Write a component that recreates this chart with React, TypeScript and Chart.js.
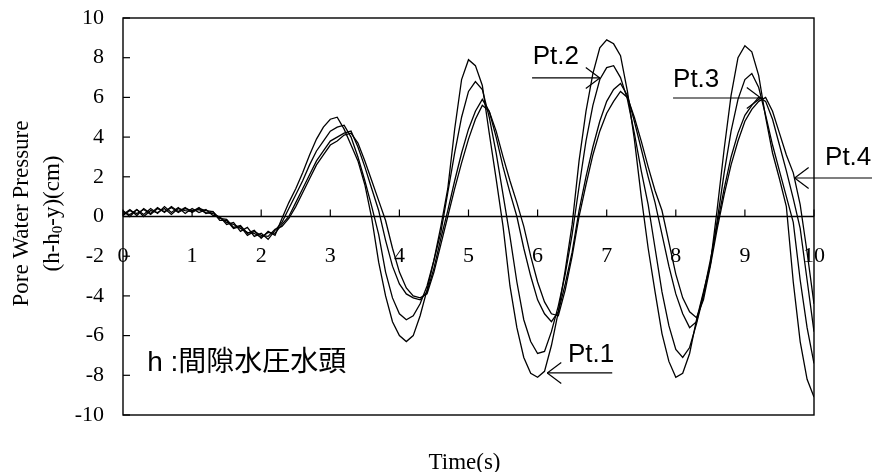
import { useEffect, useRef } from "react";
import { Chart, registerables } from "chart.js";

Chart.register(...registerables);

const TIME_S = [
  0.0, 0.1, 0.2, 0.3, 0.4, 0.5, 0.6, 0.7, 0.8, 0.9,
  1.0, 1.1, 1.2, 1.3, 1.4, 1.5, 1.6, 1.7, 1.8, 1.9,
  2.0, 2.1, 2.2, 2.3, 2.4, 2.5, 2.6, 2.7, 2.8, 2.9,
  3.0, 3.1, 3.2, 3.3, 3.4, 3.5, 3.6, 3.7, 3.8, 3.9,
  4.0, 4.1, 4.2, 4.3, 4.4, 4.5, 4.6, 4.7, 4.8, 4.9,
  5.0, 5.1, 5.2, 5.3, 5.4, 5.5, 5.6, 5.7, 5.8, 5.9,
  6.0, 6.1, 6.2, 6.3, 6.4, 6.5, 6.6, 6.7, 6.8, 6.9,
  7.0, 7.1, 7.2, 7.3, 7.4, 7.5, 7.6, 7.7, 7.8, 7.9,
  8.0, 8.1, 8.2, 8.3, 8.4, 8.5, 8.6, 8.7, 8.8, 8.9,
  9.0, 9.1, 9.2, 9.3, 9.4, 9.5, 9.6, 9.7, 9.8, 9.9,
  10.0,
];

const PT1 = [
  0.1, 0.35, 0.05, 0.4, 0.15, 0.45, 0.2, 0.5, 0.25, 0.45,
  0.2, 0.4, 0.3, 0.25, -0.1, -0.15, -0.55, -0.45, -0.85, -0.7,
  -1.1, -0.75, -0.95, -0.1, 0.7, 1.4, 2.2, 3.1, 3.9, 4.5,
  4.9, 5.0, 4.4, 3.6, 2.8, 1.6, -0.1, -2.3, -4.0, -5.3,
  -6.0, -6.3, -6.0, -5.0, -3.7, -2.2, -0.5, 1.4, 4.4, 6.9,
  7.9, 7.6, 6.6, 4.2, 1.9, -0.5, -3.5, -5.6, -7.1, -7.9,
  -8.1, -7.8, -6.5, -4.8, -2.7, -0.4, 2.8, 5.3, 7.2, 8.5,
  8.9, 8.7, 8.1, 6.3, 3.9, 1.0, -1.6, -3.8, -5.9, -7.3,
  -8.1, -7.9, -6.9, -5.2, -3.8, -2.4, 0.4, 3.4, 6.1, 8.0,
  8.6, 8.3, 7.1, 5.0, 3.2, 1.9, 0.5, -3.3, -6.3, -8.2,
  -9.1,
];

const PT2 = [
  0.3, 0.0, 0.35, 0.1, 0.4, 0.15, 0.5, 0.2, 0.45, 0.15,
  0.4, 0.2, 0.35, 0.05, 0.0, -0.4, -0.3, -0.75, -0.55, -1.0,
  -0.85, -1.15, -0.7, -0.3, 0.4, 1.1, 1.8, 2.6, 3.3, 3.8,
  4.3, 4.5, 4.6, 4.0, 3.0, 1.8, 0.5, -0.9, -2.8, -4.1,
  -4.9, -5.2, -5.0, -4.4, -3.5, -2.2, -0.8, 1.2, 3.2, 5.0,
  6.3, 6.8, 6.4, 5.0, 3.2, 1.1, -1.0, -3.3, -5.2, -6.3,
  -6.9, -6.8, -5.8, -4.5, -2.9, -0.9, 1.5, 3.8, 5.6, 6.9,
  7.5, 7.6, 7.0, 5.9, 4.2, 2.3, 0.6, -1.6, -3.8, -5.5,
  -6.7, -7.1, -6.6, -5.4, -4.0, -2.4, -0.2, 2.2, 4.3, 5.9,
  6.9, 7.2, 6.5, 5.1, 3.6, 2.3, 1.0, -0.3, -3.2, -5.6,
  -7.4,
];

const PT3 = [
  0.05, 0.3, 0.15, 0.35, 0.1, 0.4, 0.25, 0.45, 0.2, 0.4,
  0.3, 0.35, 0.2, 0.15, -0.05, -0.3, -0.4, -0.6, -0.8, -0.85,
  -1.05, -0.8, -0.85, -0.4, 0.0, 0.7, 1.4, 2.1, 2.8, 3.3,
  3.8, 4.0, 4.2, 4.3, 3.5, 2.5, 1.4, 0.3, -1.2, -2.5,
  -3.4, -3.9, -4.1, -4.2, -3.8, -2.6, -1.1, 0.3, 1.8, 3.2,
  4.4, 5.3, 5.9, 5.3, 4.0, 2.5, 1.2, 0.0, -1.6, -3.0,
  -4.2, -4.9, -5.3, -4.8, -3.4, -1.8, 0.3, 2.0, 3.5, 4.8,
  5.8, 6.4, 6.7, 6.1, 4.8, 3.4, 2.0, 0.7, -0.9, -2.5,
  -3.9, -4.9, -5.6, -5.3, -3.9, -2.2, -0.4, 1.4, 3.0, 4.2,
  5.1, 5.6, 6.0, 5.8, 4.9, 3.6, 2.3, 0.9, -0.6, -3.2,
  -5.8,
];

const PT4 = [
  0.2, 0.1, 0.35, 0.0, 0.3, 0.2, 0.4, 0.1, 0.4, 0.3,
  0.25, 0.45, 0.15, 0.25, -0.2, -0.2, -0.6, -0.5, -0.95, -0.75,
  -0.95, -1.0, -0.65, -0.5, -0.1, 0.5, 1.2, 1.9, 2.6, 3.1,
  3.6, 3.8, 4.1, 4.2, 3.7, 2.8, 1.8, 0.8, -0.2, -1.6,
  -2.8, -3.6, -4.0, -4.1, -3.9, -2.8, -1.4, 0.0, 1.4, 2.7,
  3.9, 4.9, 5.6, 5.3, 4.3, 3.0, 1.8, 0.7, -0.5, -2.0,
  -3.3, -4.3, -4.9, -5.0, -3.7, -2.0, 0.0, 1.6, 3.1, 4.3,
  5.2, 5.8, 6.3, 6.0, 5.0, 3.8, 2.5, 1.3, 0.3, -1.3,
  -2.9, -4.1, -4.8, -5.1, -4.2, -2.5, -0.6, 1.1, 2.6, 3.8,
  4.8, 5.4, 5.8, 6.0, 5.3, 4.2, 3.1, 2.2, 0.6, -1.8,
  -4.4,
];

const SERIES = [PT1, PT2, PT3, PT4];
const SERIES_LABELS = ["Pt.1", "Pt.2", "Pt.3", "Pt.4"];
const Y_TICKS = [10, 8, 6, 4, 2, 0, -2, -4, -6, -8, -10];
const X_TICKS = [0, 1, 2, 3, 4, 5, 6, 7, 8, 9, 10];
const Y_TITLE_1 = "Pore Water Pressure";
const Y_TITLE_2A = "(h-h";
const Y_TITLE_2SUB = "0";
const Y_TITLE_2B = "-y)(cm)";
const X_TITLE = "Time(s)";
const NOTE = "h :間隙水圧水頭";

// callouts: label, text anchor (data units), arrow tip and tail (data units)
const CALLOUTS = [
  { label: "Pt.1", textT: 6.44, textV: -7.33, tipT: 6.14, tailT: 7.08, lineV: -7.88 },
  { label: "Pt.2", textT: 5.93, textV: 7.68, tipT: 6.9, tailT: 5.92, lineV: 6.98 },
  { label: "Pt.3", textT: 7.96, textV: 6.52, tipT: 9.23, tailT: 7.96, lineV: 5.97 },
  { label: "Pt.4", textT: 10.16, textV: 2.6, tipT: 9.72, tailT: 11.8, lineV: 1.94 },
];
const NOTE_POS = { t: 0.35, v: -7.78 };

const overlay = {
  id: "overlay",
  afterDraw(chart: any) {
    const { ctx, chartArea: a } = chart;
    const x = chart.scales.x;
    const y = chart.scales.y;
    const seg = (x1: number, y1: number, x2: number, y2: number) => {
      ctx.beginPath();
      ctx.moveTo(x1, y1);
      ctx.lineTo(x2, y2);
      ctx.stroke();
    };
    ctx.save();
    ctx.strokeStyle = "#000";
    ctx.fillStyle = "#000";
    ctx.lineWidth = 1.4;
    ctx.strokeRect(a.left, a.top, a.right - a.left, a.bottom - a.top);
    const y0 = y.getPixelForValue(0);
    seg(a.left, y0, a.right, y0);
    ctx.lineWidth = 1.2;
    Y_TICKS.forEach((v) => {
      const py = y.getPixelForValue(v);
      seg(a.left, py, a.left + 7, py);
    });
    X_TICKS.forEach((t) => {
      const px = x.getPixelForValue(t);
      seg(px, y0, px, y0 - 7);
    });

    ctx.font = '22px "Liberation Serif"';
    ctx.textAlign = "right";
    ctx.textBaseline = "middle";
    Y_TICKS.forEach((v) => ctx.fillText(String(v), a.left - 19, y.getPixelForValue(v)));
    ctx.textAlign = "center";
    X_TICKS.forEach((t) => ctx.fillText(String(t), x.getPixelForValue(t), y0 + 40));

    // x title
    ctx.font = '23px "Liberation Serif"';
    ctx.textBaseline = "alphabetic";
    ctx.fillText(X_TITLE, (a.left + a.right) / 2 - 4, 469);

    // y title
    const cy = (a.top + a.bottom) / 2 - 3;
    ctx.save();
    ctx.translate(28, cy);
    ctx.rotate(-Math.PI / 2);
    ctx.textAlign = "center";
    ctx.fillText(Y_TITLE_1, 0, 0);
    ctx.restore();

    ctx.save();
    ctx.translate(59, cy);
    ctx.rotate(-Math.PI / 2);
    ctx.textAlign = "left";
    ctx.font = '23px "Liberation Serif"';
    const wA = ctx.measureText(Y_TITLE_2A).width;
    const wB = ctx.measureText(Y_TITLE_2B).width;
    ctx.font = '15px "Liberation Serif"';
    const wS = ctx.measureText(Y_TITLE_2SUB).width;
    const total = wA + wS + wB;
    let cx = -total / 2;
    ctx.font = '23px "Liberation Serif"';
    ctx.fillText(Y_TITLE_2A, cx, 0);
    cx += wA;
    ctx.font = '15px "Liberation Serif"';
    ctx.fillText(Y_TITLE_2SUB, cx, 3);
    cx += wS;
    ctx.font = '23px "Liberation Serif"';
    ctx.fillText(Y_TITLE_2B, cx, 0);
    ctx.restore();

    // callouts
    ctx.font = '26px "Liberation Sans", Arial, sans-serif';
    ctx.textAlign = "left";
    ctx.textBaseline = "alphabetic";
    ctx.lineWidth = 1.2;
    CALLOUTS.forEach((c) => {
      ctx.fillText(c.label, x.getPixelForValue(c.textT), y.getPixelForValue(c.textV));
      const tipX = x.getPixelForValue(c.tipT);
      const tailX = x.getPixelForValue(c.tailT);
      const ly = y.getPixelForValue(c.lineV);
      seg(tailX, ly, tipX, ly);
      const dir = tailX > tipX ? 1 : -1;
      seg(tipX + dir * 14, ly - 10.5, tipX, ly);
      seg(tipX + dir * 14, ly + 10.5, tipX, ly);
    });

    ctx.font = '28px "Liberation Sans", "Noto Sans CJK JP", sans-serif';
    ctx.fillText(NOTE, x.getPixelForValue(NOTE_POS.t), y.getPixelForValue(NOTE_POS.v));
    ctx.restore();
  },
};

export default function App() {
  const ref = useRef<HTMLCanvasElement | null>(null);
  useEffect(() => {
    if (!ref.current) return;
    const chart = new Chart(ref.current, {
      type: "line",
      data: {
        datasets: SERIES.map((s, k) => ({
          label: SERIES_LABELS[k],
          data: TIME_S.map((t, i) => ({ x: t, y: s[i] })),
          borderColor: "#000",
          borderWidth: 1.3,
          pointRadius: 0,
          fill: false,
          tension: 0,
        })),
      },
      options: {
        animation: false,
        responsive: false,
        maintainAspectRatio: false,
        events: [],
        layout: { padding: { left: 123, right: 58, top: 18, bottom: 57 } },
        plugins: { legend: { display: false }, tooltip: { enabled: false } },
        scales: {
          x: { type: "linear", min: 0, max: 10, display: false },
          y: { type: "linear", min: -10, max: 10, display: false },
        },
      },
      plugins: [overlay],
    });
    return () => chart.destroy();
  }, []);
  return (
    <div style={{ position: "absolute", left: 0, top: 0, width: 872, height: 472, background: "#fff" }}>
      <canvas ref={ref} width={872} height={472} style={{ width: 872, height: 472 }} />
    </div>
  );
}
